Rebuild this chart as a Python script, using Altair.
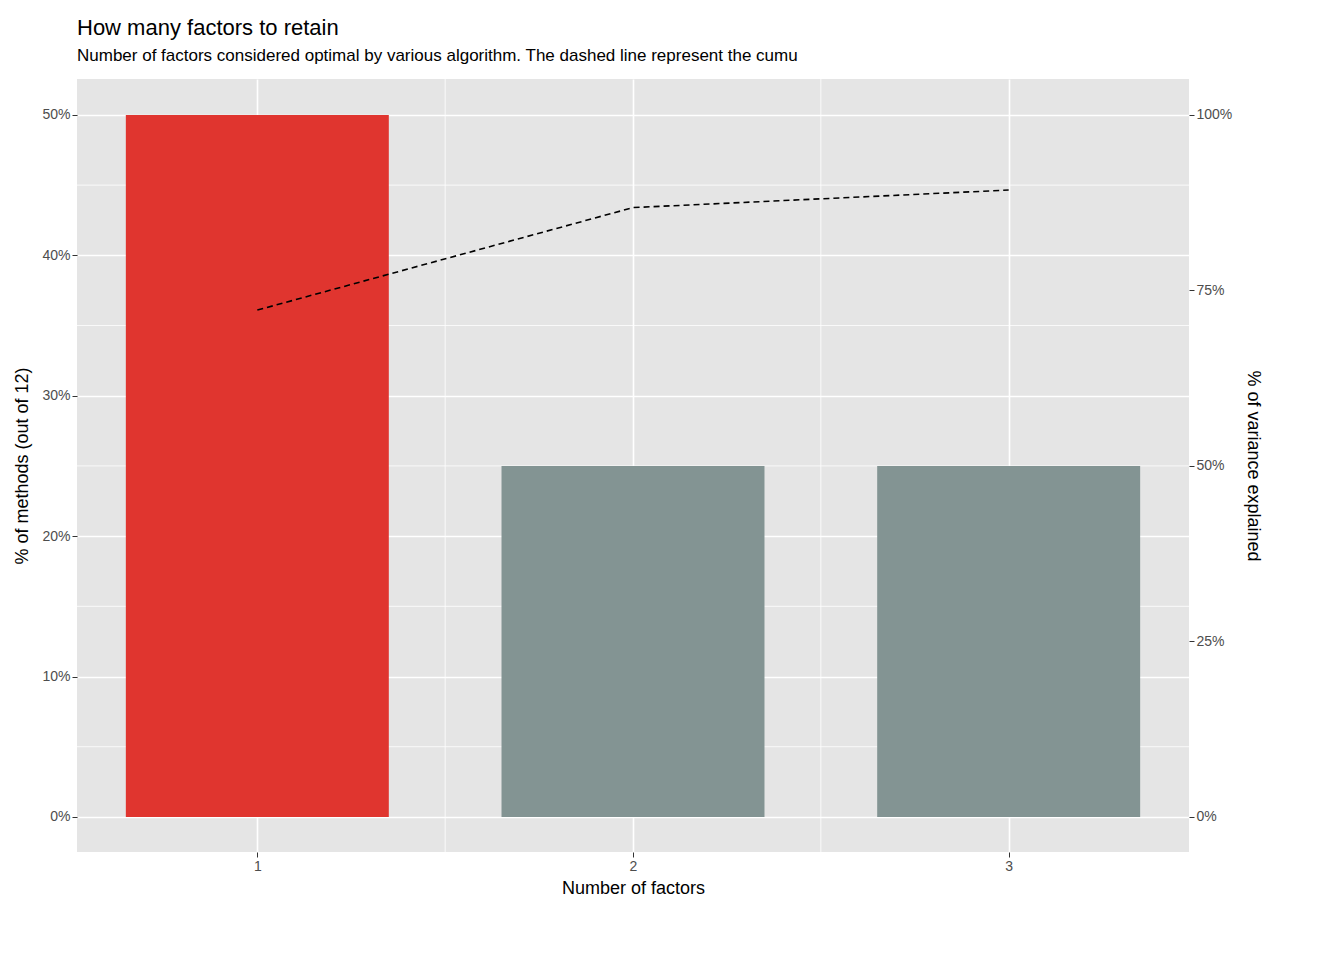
import altair as alt
import pandas as pd

factors = [1, 2, 3]
pct_methods = [0.50, 0.25, 0.25]
bar_colors = ["#E0352F", "#839493", "#839493"]
cum_variance = [0.722, 0.868, 0.893]

y_major = [0, 0.1, 0.2, 0.3, 0.4, 0.5]
y_minor = [0.05, 0.15, 0.25, 0.35, 0.45]
x_minor = [1.5, 2.5]
right_ticks = [0, 0.25, 0.5, 0.75, 1.0]

bars_df = pd.DataFrame({"n": factors, "x0": [f - 0.35 for f in factors],
                        "x1": [f + 0.35 for f in factors], "pct": pct_methods,
                        "col": bar_colors})
line_df = pd.DataFrame({"n": factors, "var": cum_variance})

xdom = [0.52, 3.48]
ldom = [-0.025, 0.5256]
rdom = [-0.05, 1.0512]
font = "Liberation Sans"

xs = alt.Scale(domain=xdom, nice=False, zero=False)
ys = alt.Scale(domain=ldom, nice=False, zero=False)

common = dict(domain=False, tickColor="#333", tickSize=5, labelColor="#4D4D4D",
              labelFontSize=14, titleFontSize=18, titleColor="black", titleFontWeight="normal",
              labelFont=font, titleFont=font)
x_axis = alt.Axis(values=factors, format="d", grid=True, gridColor="white", gridWidth=1.6,
                  titlePadding=6, **common)
y_axis = alt.Axis(values=y_major, format=".0%", grid=True, gridColor="white", gridWidth=1.6,
                  titlePadding=10, **common)

minor_h = alt.Chart(pd.DataFrame({"v": y_minor})).mark_rule(color="white", strokeWidth=0.8).encode(
    y=alt.Y("v:Q", scale=ys, axis=y_axis, title="% of methods (out of 12)"))
minor_v = alt.Chart(pd.DataFrame({"v": x_minor})).mark_rule(color="white", strokeWidth=0.8).encode(
    x=alt.X("v:Q", scale=xs, axis=x_axis, title="Number of factors"))

bars = alt.Chart(bars_df).mark_bar().encode(
    x=alt.X("x0:Q", scale=xs, axis=x_axis, title="Number of factors"),
    x2="x1:Q",
    y=alt.Y("pct:Q", scale=ys, axis=y_axis, title="% of methods (out of 12)"),
    y2=alt.datum(0),
    color=alt.Color("col:N", scale=None),
)

left = alt.layer(minor_h, minor_v, bars)

line = alt.Chart(line_df).mark_line(color="black", strokeDash=[6, 4], strokeWidth=1.6).encode(
    x=alt.X("n:Q", scale=xs, axis=x_axis, title="Number of factors"),
    y=alt.Y("var:Q", scale=alt.Scale(domain=rdom, nice=False, zero=False),
            title="% of variance explained",
            axis=alt.Axis(orient="right", values=right_ticks, format=".0%", grid=False,
                          titleAngle=90, titlePadding=12, **common)),
)

chart = alt.layer(left, line).resolve_scale(y="independent").properties(
    width=1112, height=773,
    padding={"left": 5, "top": 8, "right": 5, "bottom": 5},
    title=alt.TitleParams(
        "How many factors to retain",
        subtitle="Number of factors considered optimal by various algorithm. The dashed line represent the cumu",
        anchor="start", frame="group", font=font, fontSize=22, fontWeight="normal", subtitleFont=font,
        subtitleFontSize=17, subtitleColor="black", subtitlePadding=8, offset=14),
).configure_view(fill="#E5E5E5", stroke=None)

chart.save("out.html", embed_options={"renderer": "svg", "actions": False})
